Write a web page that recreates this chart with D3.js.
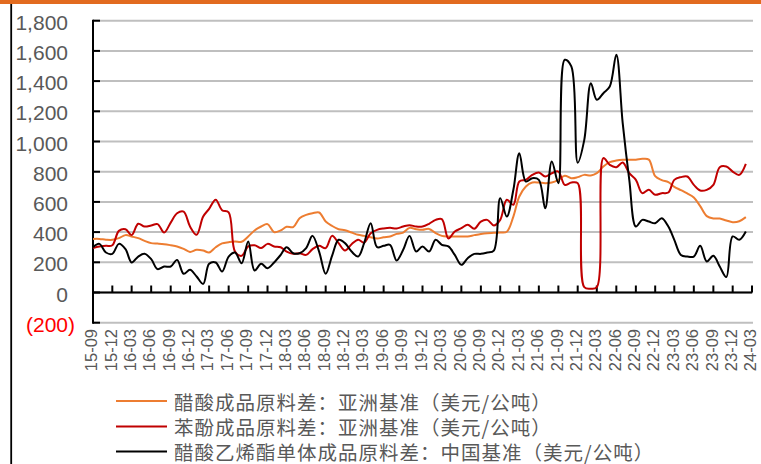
<!DOCTYPE html>
<html>
<head>
<meta charset="utf-8">
<script src="https://cdn.jsdelivr.net/npm/d3@7"></script>
<style>
  body { margin: 0; background: #fff; }
  svg { display: block; }
</style>
</head>
<body>
<svg id="chart" width="761" height="464"></svg>
<script>
// Monthly series, 2015-09 .. 2024-02 (US$/t)
const firstMonth = "15-09";
const endMonth = "24-03";

const tickLabels = [
  "15-09","15-12","16-03","16-06","16-09","16-12","17-03","17-06","17-09","17-12",
  "18-03","18-06","18-09","18-12","19-03","19-06","19-09","19-12","20-03","20-06",
  "20-09","20-12","21-03","21-06","21-09","21-12","22-03","22-06","22-09","22-12",
  "23-03","23-06","23-09","23-12","24-03"
];

const yTicks = [-200, 0, 200, 400, 600, 800, 1000, 1200, 1400, 1600, 1800];

const seriesNames = [
  "醋酸成品原料差：亚洲基准（美元/公吨）",
  "苯酚成品原料差：亚洲基准（美元/公吨）",
  "醋酸乙烯酯单体成品原料差：中国基准（美元/公吨）"
];
const seriesColors = ["#ED7D31", "#C00000", "#000000"];

// 醋酸成品原料差：亚洲基准
const aceticSpread = [
  355, 355, 350, 349, 360, 380, 371, 360, 342, 327,
  324, 320, 313, 305, 289, 269, 283, 278, 265, 300,
  325, 333, 338, 336, 371, 411, 437, 453, 400, 411,
  435, 433, 492, 514, 525, 530, 470, 441, 419, 412,
  397, 382, 375, 366, 357, 366, 371, 388, 397, 428,
  419, 415, 421, 393, 375, 371, 371, 371, 371, 380,
  388, 393, 395, 397, 402, 503, 636, 702, 728, 728,
  724, 728, 746, 773, 757, 764, 779, 775, 790, 834,
  863, 874, 879, 879, 879, 885, 880, 770, 744, 731,
  700, 678, 656, 629, 572, 506, 490, 490, 477, 466,
  472, 499
];

// 苯酚成品原料差：亚洲基准
const phenolSpread = [
  294, 305, 309, 313, 408, 419, 380, 455, 437, 444,
  453, 397, 463, 525, 536, 437, 382, 503, 554, 614,
  545, 530, 271, 243, 305, 313, 294, 322, 305, 300,
  271, 256, 260, 249, 287, 309, 294, 375, 327, 278,
  320, 350, 330, 393, 415, 424, 428, 424, 437, 446,
  437, 437, 455, 481, 486, 358, 404, 426, 448, 422,
  470, 481, 444, 481, 614, 581, 735, 746, 779, 795,
  768, 790, 801, 713, 728, 724, 35, 25, 35, 890,
  845, 830, 861, 790, 746, 658, 680, 647, 658, 662,
  746, 764, 768, 713, 675, 680, 713, 830, 834, 801,
  779, 852
];

// 醋酸乙烯酯单体成品原料差：中国基准
const vamSpread = [
  300, 322, 265, 256, 322, 287, 199, 238, 256, 221,
  155, 172, 172, 216, 124, 150, 106, 57, 190, 199,
  139, 238, 265, 194, 338, 146, 190, 161, 199, 249,
  300, 260, 260, 294, 375, 271, 124, 243, 349, 327,
  271, 238, 327, 459, 300, 309, 316, 212, 283, 375,
  271, 305, 271, 349, 316, 305, 249, 183, 227, 256,
  256, 265, 278, 625, 503, 680, 923, 735, 757, 746,
  558, 868, 724, 1541, 1497, 860, 1011, 1386, 1276, 1320,
  1364, 1574, 1121, 746, 437, 481, 470, 459, 492, 437,
  349, 249, 238, 238, 309, 205, 243, 172, 102, 371,
  349, 404
];

const parseMonth = d3.timeParse("%y-%m");
const months = d3.timeMonth.range(parseMonth(firstMonth), parseMonth(endMonth));
const seriesValues = [aceticSpread, phenolSpread, vamSpread];

const svg = d3.select("#chart");
const numFont = "'Liberation Sans', Arial, sans-serif";
const cjkFont = "'Noto Sans CJK SC', 'Noto Sans', sans-serif";
const textGrey = "#595959";

// frame: orange band on top, black rule on the left
svg.append("rect").attr("x", 0).attr("y", 0).attr("width", 761).attr("height", 4).attr("fill", "#E26B1F");
svg.append("line").attr("x1", 11.2).attr("x2", 11.2).attr("y1", 4).attr("y2", 464)
  .attr("stroke", "#000").attr("stroke-width", 1.8);

const x = d3.scaleTime()
  .domain([parseMonth(firstMonth), parseMonth(endMonth)])
  .range([93, 752]);
const y = d3.scaleLinear().domain([-200, 1800]).range([322.7, 20.7]);

// horizontal gridlines
svg.append("g").selectAll("line").data(yTicks).join("line")
  .attr("x1", 93).attr("x2", 753)
  .attr("y1", d => y(d)).attr("y2", d => y(d))
  .attr("stroke", "#BFBFBF").attr("stroke-width", 2);

// y axis: spine, inward ticks, labels
const yAxis = svg.append("g");
yAxis.append("line").attr("x1", 93).attr("x2", 93)
  .attr("y1", y(-200) + 1).attr("y2", y(1800) - 1)
  .attr("stroke", "#000").attr("stroke-width", 2);
yAxis.selectAll("line.tick").data(yTicks).join("line").attr("class", "tick")
  .attr("x1", 93).attr("x2", 100)
  .attr("y1", d => y(d)).attr("y2", d => y(d))
  .attr("stroke", "#000").attr("stroke-width", 2);
const fmt = d3.format(",");
yAxis.selectAll("text").data(yTicks).join("text")
  .attr("x", d => d < 0 ? 75 : 68)
  .attr("y", d => y(d) + 9)
  .attr("text-anchor", "end")
  .attr("font-family", numFont).attr("font-size", 21)
  .attr("fill", d => d < 0 ? "#FF0000" : textGrey)
  .text(d => d < 0 ? "(" + fmt(-d) + ")" : fmt(d));

// x axis on the zero line, ticks pointing up
const xAxis = svg.append("g");
xAxis.append("line").attr("x1", 92).attr("x2", 752)
  .attr("y1", y(0)).attr("y2", y(0))
  .attr("stroke", "#000").attr("stroke-width", 2);
xAxis.selectAll("line.tick").data(tickLabels).join("line").attr("class", "tick")
  .attr("x1", d => x(parseMonth(d))).attr("x2", d => x(parseMonth(d)))
  .attr("y1", y(0)).attr("y2", y(0) - 7)
  .attr("stroke", "#000").attr("stroke-width", 2);
svg.append("g").selectAll("text").data(tickLabels).join("text")
  .attr("transform", d => `translate(${x(parseMonth(d)) - 1.5},329) rotate(-90)`)
  .attr("text-anchor", "end")
  .attr("dy", "0.35em")
  .attr("font-family", numFont).attr("font-size", 16.5)
  .attr("fill", textGrey)
  .text(d => d);

// series lines
const line = d3.line()
  .x((d, i) => x(months[i]))
  .y(d => y(d))
  .curve(d3.curveCatmullRom.alpha(0.5));
svg.append("g").selectAll("path").data(seriesValues).join("path")
  .attr("d", d => line(d))
  .attr("fill", "none")
  .attr("stroke", (d, i) => seriesColors[i])
  .attr("stroke-width", 2)
  .attr("stroke-linejoin", "round");

// legend
const legendY = [401, 426.5, 451.5];
const legend = svg.append("g").selectAll("g").data(seriesNames).join("g")
  .attr("transform", (d, i) => `translate(0,${legendY[i]})`);
legend.append("line").attr("x1", 116).attr("x2", 167)
  .attr("stroke", (d, i) => seriesColors[i]).attr("stroke-width", 2);
legend.append("text")
  .attr("x", 174)
  .attr("dominant-baseline", "central")
  .attr("font-family", cjkFont).attr("font-size", 19.5)
  .attr("letter-spacing", 1)
  .attr("fill", textGrey)
  .text(d => d);
</script>
</body>
</html>
